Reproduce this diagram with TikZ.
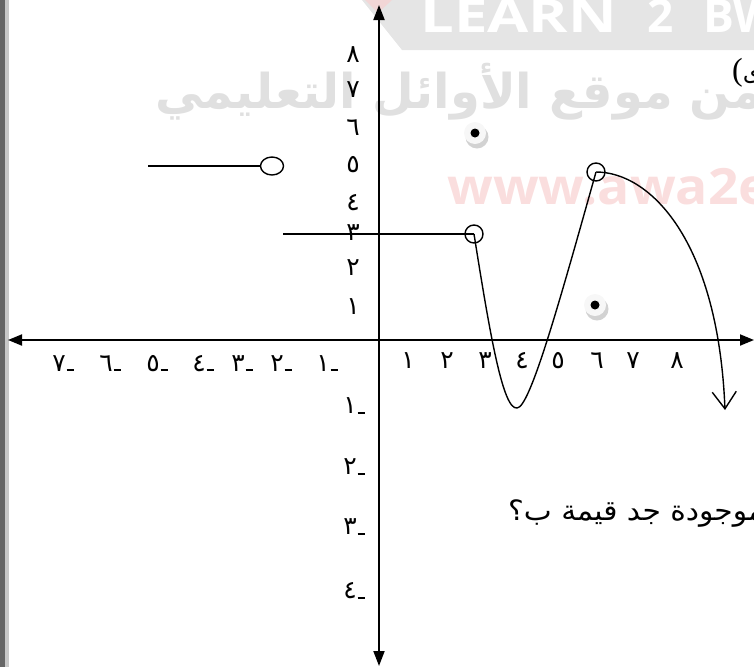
\documentclass[tikz,border=0pt]{standalone}
\usepackage{fontspec}
\usetikzlibrary{arrows.meta,shapes.geometric}
\TeXXeTstate=1
\newfontfamily\arabicfont[Script=Arabic]{DejaVu Sans}
\newfontfamily\digitfont{DejaVu Sans}
\newfontfamily\wmfont{Open Sans}
\newfontfamily\parenfont{Liberation Serif}
\definecolor{banner}{RGB}{229,229,229}
\definecolor{wmgray}{RGB}{224,224,224}
\definecolor{wmpink}{RGB}{250,222,222}
\definecolor{logopink}{RGB}{242,214,214}
\definecolor{stripdark}{RGB}{102,102,102}
\definecolor{striplight}{RGB}{200,200,200}
\newcommand\negnum[1]{#1\kern0.8pt\rule{7pt}{1.9pt}}
\begin{document}
\begin{tikzpicture}[x=1pt,y=-1pt,
  axisline/.style={line width=1.9pt},
  curveline/.style={line width=1.4pt},
  openpt/.style={circle,draw,line width=1.4pt,minimum size=18pt,inner sep=0pt},
  openell/.style={ellipse,draw,line width=1.4pt,minimum width=23pt,minimum height=18pt,inner sep=0pt},
  lbl/.style={font=\digitfont\fontsize{25}{25}\selectfont,inner sep=0pt},
  wm/.style={inner sep=0pt,anchor=base west}]
\useasboundingbox (0,0) rectangle (754,667);
% left page strip
\fill[stripdark] (0,0) rectangle (5,667);
\fill[striplight] (5,0) rectangle (9,667);
% watermarks
\fill[banner] (362,0) -- (754,0) -- (754,50) -- (402,50) -- cycle;
\fill[logopink] (365,0) -- (392,0) -- (378,13) -- cycle;
\node[wm,text=white,xscale=1.3] (wmlearn) at (420,32) {\wmfont\bfseries\fontsize{46}{46}\selectfont LEARN};
\node[wm,text=white] (wmtwo) at (647,32) {\wmfont\bfseries\fontsize{46}{46}\selectfont 2};
\node[wm,text=white] (wmbe) at (703,32) {\wmfont\bfseries\fontsize{46}{46}\selectfont BW};
\node[wm,text=wmgray] (wmar) at (155,108) {\arabicfont\bfseries\fontsize{48}{48}\selectfont\beginR الكتاب من موقع الأوائل التعليمي\endR};
\node[wm,text=wmpink,xscale=1.07] (wmweb) at (447,204) {\wmfont\bfseries\fontsize{50}{50}\selectfont www.awa2el.net};
% axes
\coordinate (ytop) at (379,5);
\coordinate (ybot) at (379,666);
\coordinate (xleft) at (8,340);
\coordinate (xright) at (754,340);
\draw[axisline,{Triangle[length=15pt,width=11pt]}-{Triangle[length=15pt,width=11pt]}] (ybot) -- (ytop);
\draw[axisline,{Triangle[length=14pt,width=11pt]}-{Triangle[length=14pt,width=11pt]}] (xleft) -- (xright);
% y labels
\foreach \t/\y in {١/307,٢/268,٣/233,٤/203,٥/165,٦/128,٧/90,٨/55}
  \node[lbl] at (353,\y) {\t};
\foreach \t/\y in {١/406,٢/467,٣/527,٤/591}
  \node[lbl] at (354,\y) {\negnum{\t}};
% x labels
\foreach \t/\x in {١/408,٢/447,٣/485,٤/522,٥/558,٦/597,٧/633,٨/677}
  \node[lbl,anchor=base] at (\x,368) {\t};
\foreach \t/\x in {١/327,٢/281,٣/242,٤/203,٥/157,٦/110,٧/63}
  \node[lbl,anchor=base] at (\x,371) {\negnum{\t}};
% rays and open points
\coordinate (rayA) at (148,166);
\coordinate (rayB) at (283,234);
\node[openell] (pA) at (272,166) {};
\node[openpt] (pB) at (474,234) {};
\node[openpt] (pC) at (596,172) {};
\draw[curveline] (rayA) -- (pA.west);
\draw[curveline] (rayB) -- (pB.center);
% curve
\coordinate (low) at (517,408);
\coordinate (tipend) at (725,410);
\draw[curveline] (pB.center) .. controls (490,335) and (503,410) .. (low)
  .. controls (530,408) and (560,300) .. (pC.center);
\draw[curveline,-{Straight Barb[length=17pt,width=24pt]}] (pC.center) .. controls (650,172) and (718,240) .. (tipend);
% closed points with shadows
\foreach \n/\x/\y in {dA/475/133,dB/595/305}{
  \fill[gray!35] (\x+2,\y+4) circle (11.5);
  \fill[gray!6] (\x,\y) circle (11);
  \node[circle,fill=black,inner sep=0pt,minimum size=9pt] (\n) at (\x,\y) {};
}
% texts
\node[inner sep=0pt,anchor=base west,xscale=1.06] (question) at (508,520) {\arabicfont\fontsize{28}{32}\selectfont\beginR موجودة جد قيمة ب؟\endR};
\node[inner sep=0pt,anchor=base west] (paren) at (732,80) {\parenfont\fontsize{32}{32}\selectfont(\arabicfont\fontsize{24}{24}\selectfont ى};
\end{tikzpicture}
\end{document}
